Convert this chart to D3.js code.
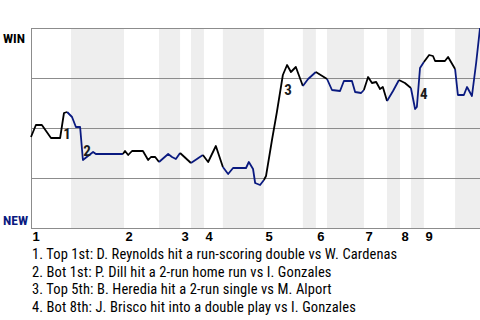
<!DOCTYPE html>
<html>
<head>
<meta charset="utf-8">
<script src="https://cdn.jsdelivr.net/npm/d3@7"></script>
<style>
  body { margin: 0; background: #fff; }
  svg { display: block; font-family: "Roboto Condensed", Roboto, sans-serif; font-stretch: condensed; }
</style>
</head>
<body>
<svg id="chart" width="480" height="320"></svg>
<script>
// inning labels and where each half-inning starts (in plays)
var innings = ['1', '2', '3', '4', '5', '6', '7', '8', '9'];
var halfStarts = [0, 11.4, 26.5, 36.5, 42.5, 45.6, 49.3, 54.7, 66.4, 77.5, 81.2, 84.4, 94.9, 101.5, 105.2, 108.3, 112.0, 120.9];
var gameEnd = 128;

// play number and win probability (top team, %)
var playNo = [0, 1.4, 3.1, 5.7, 8.3, 9.4, 10.3, 11.7, 12.8, 14.0, 14.8, 17.7, 18.5, 26.2, 26.8, 27.7, 28.8, 31.9,
  33.4, 34.2, 35.4, 36.5, 39.1, 40.2, 41.3, 42.5, 45.6, 49.0, 50.5, 52.7, 54.7, 56.2, 57.6, 61.3, 62.1, 63.3,
  63.9, 65.3, 66.4, 67.0, 68.7, 70.1, 71.8, 73.0, 74.1, 75.5, 77.5, 79.0, 81.2, 84.4, 85.8, 88.1, 89.2, 91.5,
  92.4, 94.1, 94.9, 96.1, 97.2, 98.4, 99.5, 100.3, 101.5, 103.2, 104.9, 106.6, 108.3, 109.5, 110.0, 110.9, 112.0,
  113.5, 114.6, 115.2, 118.0, 118.9, 120.9, 121.7, 123.4, 124.3, 125.7, 126.9, 128];
var winProb = [45.5, 51.5, 51.5, 45, 45, 57.5, 58, 55.5, 50.5, 50.5, 34, 38, 37, 37, 38.5, 36.5, 38.5, 38.5,
  34, 35.5, 35.5, 33, 37, 35.5, 34.5, 37.5, 32.5, 36.5, 33, 41, 30.5, 27, 30, 30, 33, 29.5,
  22.5, 21.5, 24, 26, 44, 58, 76.5, 81.5, 78, 80.5, 71, 74.5, 78, 74.5, 69, 68.5, 73.5, 73.5,
  68, 67.5, 69, 75.5, 72.5, 73, 69.5, 70.5, 63.5, 68.5, 74, 72.5, 70, 59.5, 60.5, 80, 83,
  86.5, 86, 83.5, 83.5, 85.5, 79.5, 66.5, 66.5, 70.5, 66, 82.5, 100];

// key plays
var keyPlay = [10.3, 16.0, 73.3, 112.0];
var keyProb = [47, 38.5, 69, 67];
var notes = [
  '1. Top 1st: D. Reynolds hit a run-scoring double vs W. Cardenas',
  '2. Bot 1st: P. Dill hit a 2-run home run vs I. Gonzales',
  '3. Top 5th: B. Heredia hit a 2-run single vs M. Alport',
  '4. Bot 8th: J. Brisco hit into a double play vs I. Gonzales'
];

var navy = '#0a1a80';
var svg = d3.select('#chart');
var margin = {top: 28, right: 0, bottom: 92, left: 31},
    width = 480 - margin.left - margin.right,
    height = 320 - margin.top - margin.bottom;

var x = d3.scaleLinear().domain([0, gameEnd]).range([margin.left, margin.left + width]);
var y = d3.scaleLinear().domain([0, 100]).range([margin.top + height, margin.top]);

var halfEnds = halfStarts.slice(1).concat([gameEnd]);

// bottom half innings shaded
svg.append('g').selectAll('rect')
  .data(halfStarts.filter(function (d, i) { return i % 2 === 1; }))
  .enter().append('rect')
  .attr('x', function (d) { return x(d); })
  .attr('y', y(100))
  .attr('width', function (d) { return x(halfEnds[halfStarts.indexOf(d)]) - x(d); })
  .attr('height', y(0) - y(100))
  .attr('fill', '#eeeeee');

// grid
svg.append('g').selectAll('line')
  .data([0, 25, 50, 75, 100])
  .enter().append('line')
  .attr('x1', x(0)).attr('x2', x(gameEnd))
  .attr('y1', function (d) { return y(d) + 0.5; })
  .attr('y2', function (d) { return y(d) + 0.5; })
  .attr('stroke', '#8c8c8c').attr('stroke-width', 1);
svg.append('line')
  .attr('x1', x(0) + 0.5).attr('x2', x(0) + 0.5)
  .attr('y1', y(100)).attr('y2', y(0) + 1)
  .attr('stroke', '#8c8c8c');

// line, one piece per half inning
var pts = playNo.map(function (p, i) { return [p, winProb[i]]; });
var line = d3.line()
  .x(function (d) { return x(d[0]); })
  .y(function (d) { return y(d[1]); });

halfStarts.forEach(function (s, h) {
  var e = halfEnds[h];
  var seg = [];
  pts.forEach(function (d, i) {
    if ((d[0] > s || (h === 0 && d[0] === 0)) && d[0] <= e) {
      if (seg.length === 0 && i > 0) seg.push(pts[i - 1]);
      seg.push(d);
    }
  });
  if (seg.length < 2) return;
  svg.append('path')
    .attr('d', line(seg))
    .attr('fill', 'none')
    .attr('stroke', h % 2 ? navy : '#000')
    .attr('stroke-width', 1.8)
    .attr('stroke-linejoin', 'round');
});

// key play numbers
svg.append('g').selectAll('text')
  .data(keyPlay)
  .enter().append('text')
  .attr('x', function (d) { return x(d); })
  .attr('y', function (d, i) { return y(keyProb[i]); })
  .attr('text-anchor', 'middle')
  .attr('dy', '0.35em')
  .attr('font-size', 15)
  .attr('font-weight', 'bold')
  .attr('fill', '#1a1a1a')
  .text(function (d, i) { return i + 1; });

// team labels
svg.append('text').attr('x', 3).attr('y', y(100) + 15)
  .attr('font-size', 13.5).attr('font-weight', 'bold').attr('fill', '#000').text('WIN');
svg.append('text').attr('x', 3).attr('y', y(0) - 3)
  .attr('font-size', 13.5).attr('font-weight', 'bold').attr('fill', navy).text('NEW');

// inning axis
var inningStarts = halfStarts.filter(function (d, i) { return i % 2 === 0; });
var xAxis = d3.axisBottom(x)
  .tickValues(inningStarts)
  .tickFormat(function (d, i) { return innings[i]; })
  .tickSize(0).tickPadding(0);
var ax = svg.append('g')
  .attr('transform', 'translate(1,' + (y(0) + 4) + ')')
  .call(xAxis);
ax.select('.domain').remove();
ax.selectAll('text')
  .attr('text-anchor', 'start')
  .attr('font-family', null)
  .attr('font-size', 13)
  .attr('font-weight', 'bold')
  .attr('fill', '#000');

// notes
svg.append('g').selectAll('text')
  .data(notes)
  .enter().append('text')
  .attr('x', 32)
  .attr('y', function (d, i) { return 259 + i * 17.5; })
  .attr('font-size', 14.5)
  .attr('letter-spacing', 0.1)
  .attr('fill', '#000')
  .text(function (d) { return d; });
</script>
</body>
</html>
